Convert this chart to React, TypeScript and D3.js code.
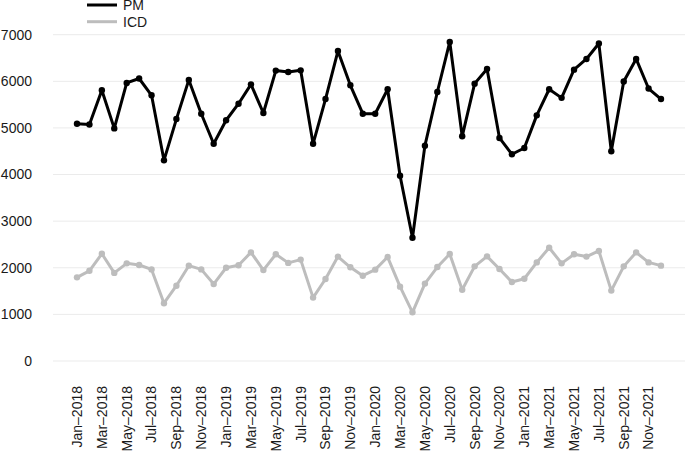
import { useEffect, useRef } from "react";
import * as d3 from "d3";

// monthly values Jan-2018 .. Dec-2021
const months = ["Jan", "Feb", "Mar", "Apr", "May", "Jun", "Jul", "Aug", "Sep", "Oct", "Nov", "Dec"];
const years = [2018, 2019, 2020, 2021];
const labels = years.flatMap(y => months.map(m => `${m}–${y}`));

const pm = [
    5090, 5075, 5810, 4990, 5965, 6060, 5700, 4305, 5190, 6030, 5305, 4660,
    5165, 5520, 5935, 5320, 6230, 6200, 6235, 4660, 5620, 6650, 5915, 5305,
    5305, 5830, 3975, 2645, 4620, 5770, 6845, 4820, 5950, 6265, 4785, 4435,
    4570, 5270, 5830, 5645, 6250, 6480, 6810, 4500, 5995, 6480, 5845, 5620
];
const icd = [
    1795, 1935, 2300, 1890, 2095, 2060, 1965, 1240, 1615, 2045, 1965, 1650,
    2000, 2055, 2330, 1950, 2290, 2105, 2175, 1360, 1760, 2240, 2010, 1830,
    1960, 2230, 1595, 1045, 1660, 2015, 2295, 1530, 2030, 2245, 1975, 1695,
    1765, 2115, 2430, 2095, 2290, 2240, 2360, 1510, 2030, 2330, 2115, 2045
];
const yTicks = [0, 1000, 2000, 3000, 4000, 5000, 6000, 7000];

const series = [
    { name: "PM", values: pm, color: "#000000" },
    { name: "ICD", values: icd, color: "#bdbdbd" }
];

export default function App() {
    const svgRef = useRef<SVGSVGElement>(null);
    const width = 685, height = 452;

    useEffect(() => {
        const svg = d3.select(svgRef.current);
        svg.selectAll("*").remove();
        const font = "Liberation Sans, Arial, sans-serif";

        const x = d3.scaleLinear().domain([0, labels.length - 1]).range([77, 661]);
        const y = d3.scaleLinear().domain([0, 7000]).range([361, 34.7]);

        // grid
        svg.append("g")
            .selectAll("line")
            .data(yTicks)
            .join("line")
            .attr("x1", 53).attr("x2", width)
            .attr("y1", d => y(d)).attr("y2", d => y(d))
            .attr("stroke", "#ebebeb")
            .attr("stroke-width", 1);

        // y labels
        svg.append("g")
            .selectAll("text")
            .data(yTicks)
            .join("text")
            .attr("x", 32)
            .attr("y", d => y(d))
            .attr("dy", "0.35em")
            .attr("text-anchor", "end")
            .attr("font-family", font)
            .attr("font-size", 14)
            .attr("fill", "#1a1a1a")
            .text(d => d);

        // x labels, every other month
        svg.append("g")
            .selectAll("text")
            .data(labels.map((l, i) => ({ l, i })).filter(d => d.i % 2 === 0))
            .join("text")
            .attr("transform", d => `translate(${x(d.i)}, 386) rotate(-90)`)
            .attr("dy", "0.35em")
            .attr("text-anchor", "end")
            .attr("font-family", font)
            .attr("font-size", 14)
            .attr("fill", "#1a1a1a")
            .text(d => d.l);

        const line = d3.line<number>()
            .x((_, i) => x(i))
            .y(d => y(d));

        series.slice().reverse().forEach(s => {
            const g = svg.append("g");
            g.append("path")
                .datum(s.values)
                .attr("fill", "none")
                .attr("stroke", s.color)
                .attr("stroke-width", 3)
                .attr("stroke-linejoin", "round")
                .attr("d", line);
            g.selectAll("circle")
                .data(s.values)
                .join("circle")
                .attr("cx", (_, i) => x(i))
                .attr("cy", d => y(d))
                .attr("r", 3.2)
                .attr("fill", s.color);
        });

        // legend
        const legend = svg.append("g");
        series.forEach((s, i) => {
            const ly = 5 + i * 16.7;
            legend.append("line")
                .attr("x1", 87).attr("x2", 117)
                .attr("y1", ly).attr("y2", ly)
                .attr("stroke", s.color)
                .attr("stroke-width", 3);
            legend.append("text")
                .attr("x", 123)
                .attr("y", ly)
                .attr("dy", "0.35em")
                .attr("font-family", font)
                .attr("font-size", 14)
                .attr("fill", "#1a1a1a")
                .text(s.name);
        });
    }, []);

    return (
        <svg ref={svgRef} width={width} height={height}
            style={{ position: "absolute", left: 0, top: 0, background: "#fff" }} />
    );
}
